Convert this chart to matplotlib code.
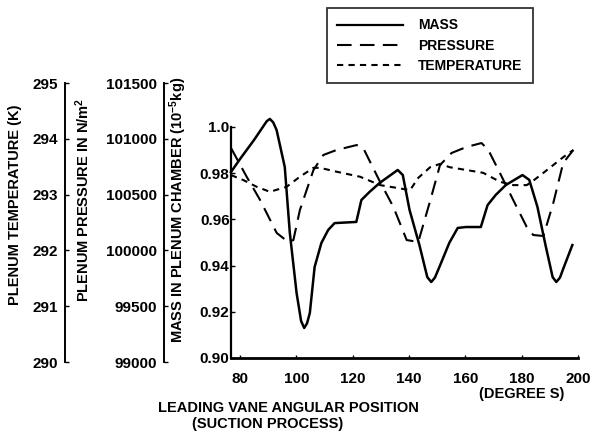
import matplotlib
matplotlib.use('Agg')
import matplotlib.pyplot as plt
from matplotlib.lines import Line2D

plt.rcParams['font.family'] = ['Liberation Sans', 'DejaVu Sans']
plt.rcParams['font.weight'] = 'bold'
plt.rcParams['axes.labelweight'] = 'bold'
plt.rcParams['mathtext.fontset'] = 'custom'
plt.rcParams['mathtext.rm'] = 'Liberation Sans:bold'
plt.rcParams['mathtext.default'] = 'rm'

# leading vane angle (deg) / mass in plenum (1e-5 kg)
mass_deg = [76.8, 80, 85, 89.5, 90.6, 91.8, 93, 95.9, 97.7, 100.1, 101.7, 102.8, 103.8, 104.8,
            106.5, 108.9, 111.3, 113.6, 121.3, 123.1, 126, 129.6, 136, 137.8, 140.2, 143.7,
            146.5, 147.9, 149.2, 150.8, 154.3, 157.3, 160.2, 165.5, 167.9, 170.8, 174.4,
            180.3, 182.7, 185.6, 188.6, 191.0, 192.3, 193.6, 195, 198]
mass = [0.9805, 0.9861, 0.9944, 1.0025, 1.0035, 1.0020, 0.9987, 0.9827, 0.9541, 0.9281,
        0.9160, 0.9130, 0.9150, 0.9195, 0.9394, 0.9498, 0.9554, 0.9584, 0.9589, 0.9684,
        0.9719, 0.9758, 0.9814, 0.9792, 0.9641, 0.9489, 0.9350, 0.9329, 0.9348, 0.9394,
        0.9498, 0.9563, 0.9567, 0.9567, 0.9662, 0.9706, 0.9749, 0.9792, 0.9771, 0.9654,
        0.9481, 0.9350, 0.9329, 0.9348, 0.9394, 0.9489]

# plenum pressure (N/m2)
pres_deg = [76.8, 82.4, 87.1, 93, 97.1, 98.9, 101.2, 106, 109.5, 114.2, 121.3, 123.6, 129.6,
            134.3, 139, 143.1, 147.3, 150.8, 154.9, 160.2, 165.5, 167.9, 172, 176.7, 181.5,
            183.8, 187.4, 190.9, 194.4, 198]
pressure = [100918, 100658, 100452, 100156, 100075, 100093, 100362, 100720, 100855, 100900,
            100944, 100918, 100613, 100389, 100093, 100075, 100443, 100765, 100873, 100927,
            100962, 100900, 100694, 100452, 100210, 100138, 100129, 100425, 100783, 100900]

# plenum temperature (K)
temp_deg = [76.8, 81.2, 85.9, 90.6, 96.5, 101.2, 106, 108.3, 114.2, 122.5, 129.6, 135.5, 140.2,
            143.1, 147.3, 150.8, 154.3, 160.2, 166.1, 172, 176.7, 181.5, 183.3, 187.4, 190.9,
            194.4, 198]
temperature = [293.35, 293.26, 293.14, 293.05, 293.14, 293.32, 293.48, 293.48, 293.41, 293.32,
               293.17, 293.12, 293.08, 293.30, 293.49, 293.55, 293.49, 293.44, 293.39, 293.23,
               293.17, 293.17, 293.23, 293.39, 293.53, 293.67, 293.80]

x_ticks = [80, 100, 120, 140, 160, 180, 200]
mass_ticks = [0.90, 0.92, 0.94, 0.96, 0.98, 1.0]
mass_tick_labels = ['0.90', '0.92', '0.94', '0.96', '0.98', '1.0']
pres_ticks = [99000, 99500, 100000, 100500, 101000, 101500]
temp_ticks = [290, 291, 292, 293, 294, 295]

W, H = 592, 436
fig = plt.figure(figsize=(W / 100, H / 100), dpi=100)


def rect(x0, y_top, x1, y_bot):
    return [x0 / W, 1 - y_bot / H, (x1 - x0) / W, (y_bot - y_top) / H]


px_per_deg = 2.825
x_right = 80 + (578 - 240) / px_per_deg
tick_fs = 11
label_fs = 10.5

ax_t = fig.add_axes(rect(65, 83, 578, 362))
ax_p = fig.add_axes(rect(164, 83, 578, 362))
ax_m = fig.add_axes(rect(231, 127, 578, 358))

for ax, x0 in [(ax_t, 65), (ax_p, 164)]:
    ax.patch.set_visible(False)
    for s in ['top', 'right', 'bottom']:
        ax.spines[s].set_visible(False)
    ax.spines['left'].set_linewidth(1.4)
    ax.set_xlim(80 - (240 - x0) / px_per_deg, x_right)
    ax.set_xticks([])
    ax.tick_params(axis='y', direction='in', length=3, width=1, pad=5, labelsize=tick_fs)

ax_m.patch.set_visible(False)
for s in ['top', 'right']:
    ax_m.spines[s].set_visible(False)
ax_m.spines['left'].set_linewidth(1.6)
ax_m.spines['bottom'].set_linewidth(2.0)
ax_m.set_xlim(80 - (240 - 231) / px_per_deg, x_right)

ax_t.plot(temp_deg, temperature, color='black', lw=1.5, linestyle=(0, (3, 2.5)))
ax_t.set_ylim(290, 295)
ax_t.set_yticks(temp_ticks)
ax_t.set_ylabel('PLENUM TEMPERATURE (K)', fontsize=label_fs)
ax_t.yaxis.set_label_coords(22 / W, 1 - 205 / H, transform=fig.transFigure)

ax_p.plot(pres_deg, pressure, color='black', lw=1.5, linestyle=(0, (7, 4)))
ax_p.set_ylim(99000, 101500)
ax_p.set_yticks(pres_ticks)
ax_p.set_ylabel('PLENUM PRESSURE IN N/m$^2$', fontsize=label_fs)
ax_p.yaxis.set_label_coords(92 / W, 1 - 200 / H, transform=fig.transFigure)

ax_m.plot(mass_deg, mass, color='black', lw=1.8, clip_on=False)
ax_m.set_ylim(0.90, 1.0)
ax_m.set_yticks(mass_ticks)
ax_m.set_yticklabels(mass_tick_labels)
ax_m.set_xticks(x_ticks)
ax_m.tick_params(axis='y', direction='in', length=3, width=1, pad=1, labelsize=tick_fs)
ax_m.tick_params(axis='x', direction='in', length=2, width=1, pad=10, labelsize=tick_fs)
ax_m.set_ylabel('MASS IN PLENUM CHAMBER (10$^{-5}$kg)', fontsize=label_fs)
ax_m.yaxis.set_label_coords(189 / W, 1 - 210 / H, transform=fig.transFigure)

fig.text(288 / W, 1 - 408 / H, 'LEADING VANE ANGULAR POSITION', ha='center', va='center', fontsize=10.5)
fig.text(268 / W, 1 - 424 / H, '(SUCTION PROCESS)', ha='center', va='center', fontsize=10.5)
fig.text(522 / W, 1 - 394 / H, '(DEGREE S)', ha='center', va='center', fontsize=10.5)

handles = [Line2D([], [], color='black', lw=1.6),
           Line2D([], [], color='black', lw=1.5, linestyle=(0, (7, 4))),
           Line2D([], [], color='black', lw=1.5, linestyle=(0, (3, 2.5)))]
leg = fig.legend(handles, ['MASS', 'PRESSURE', 'TEMPERATURE'], loc='upper left',
                 bbox_to_anchor=(327 / W, 1 - 8 / H), fontsize=10, frameon=True,
                 fancybox=False, handlelength=4.7, handletextpad=1.1, borderpad=0.75,
                 labelspacing=0.45, borderaxespad=0)
leg.get_frame().set_edgecolor('black')
leg.get_frame().set_linewidth(1.3)

fig.savefig('out.png', dpi=100)
